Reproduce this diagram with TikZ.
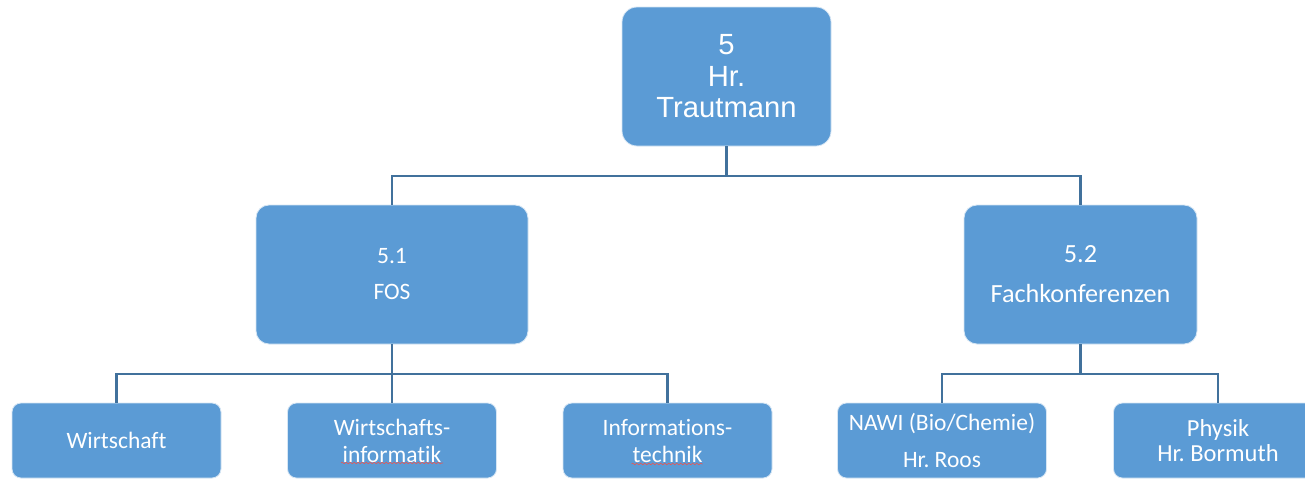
\documentclass[tikz,border=0pt]{standalone}
\usepackage{fontspec}
\setmainfont{Carlito}[Ligatures={NoCommon,NoContextual,NoRare}]
\newfontfamily\arialfont{Liberation Sans}
\usetikzlibrary{calc,decorations.pathmorphing}
\frenchspacing

\definecolor{boxblue}{HTML}{5B9BD5}
\definecolor{linkblue}{HTML}{41719C}
\definecolor{spellred}{HTML}{E05A5A}

\tikzset{
  orgbox/.style={rectangle, rounded corners=#1, fill=boxblue, draw=white!75!boxblue,
    line width=0.8pt, text=white, align=center, inner sep=2pt},
  orgbox/.default=9pt,
  topbox/.style={orgbox=15pt, minimum width=209pt, minimum height=139pt,
    font=\arialfont\fontsize{29.2}{31.5}\selectfont},
  midbox/.style={orgbox=13pt, minimum height=139pt},
  leafbox/.style={orgbox=9pt, minimum width=209pt, minimum height=75pt,
    font=\fontsize{23.5}{27}\selectfont},
  link/.style={draw=linkblue, line width=2.6pt},
  squiggle/.style={draw=spellred, line width=0.6pt,
    decorate, decoration={snake, amplitude=0.8pt, segment length=4pt}}
}

\begin{document}
\begin{tikzpicture}[x=1pt, y=-1pt]
  % page frame
  \fill[white] (0,0) rectangle (1305,479);
  \useasboundingbox (0,0) rectangle (1305,479);

  % head
  \node[topbox] (head) at (726.5,76.5) {5\\Hr.\\Trautmann};

  % second level
  \node[midbox, minimum width=272pt, font=\fontsize{23.5}{26}\selectfont]
    (fos) at (392,274.5) {5.1\\[10pt]FOS};
  \node[midbox, minimum width=233pt, font=\fontsize{26.2}{28}\selectfont]
    (fach) at (1080.5,274.5) {5.2\\[12pt]Fachkonferenzen};

  % third level
  \node[leafbox] (wi)   at (116.5,440.5) {Wirtschaft};
  \node[leafbox] (winf) at (392,440.5) {Wirtschafts-\\informatik};
  \node[leafbox] (itec) at (667.5,440.5) {Informations-\\technik};
  \node[leafbox] (nawi) at (942,440.5) {NAWI (Bio/Chemie)\\[10pt]Hr. Roos};
  \node[leafbox, font=\fontsize{24.5}{25}\selectfont]
    (phys) at (1218,440.5) {Physik\\Hr. Bormuth};

  % connectors
  \draw[link] (head.south) -- ++(0,29.5) -| (fos.north);
  \draw[link] (head.south) -- ++(0,29.5) -| (fach.north);

  \draw[link] (fos.south) -- ++(0,29.5) -| (wi.north);
  \draw[link] (fos.south) -- (winf.north);
  \draw[link] (fos.south) -- ++(0,29.5) -| (itec.north);

  \draw[link] (fach.south) -- ++(0,29.5) -| (nawi.north);
  \draw[link] (fach.south) -- ++(0,29.5) -| (phys.north);

  % spell-check marks under hyphenated words
  \draw[squiggle] ($(winf.center)+(-51,22.5)$) -- ($(winf.center)+(51,22.5)$);
  \draw[squiggle] ($(itec.center)+(-36,23.5)$) -- ($(itec.center)+(35,23.5)$);
\end{tikzpicture}
\end{document}
